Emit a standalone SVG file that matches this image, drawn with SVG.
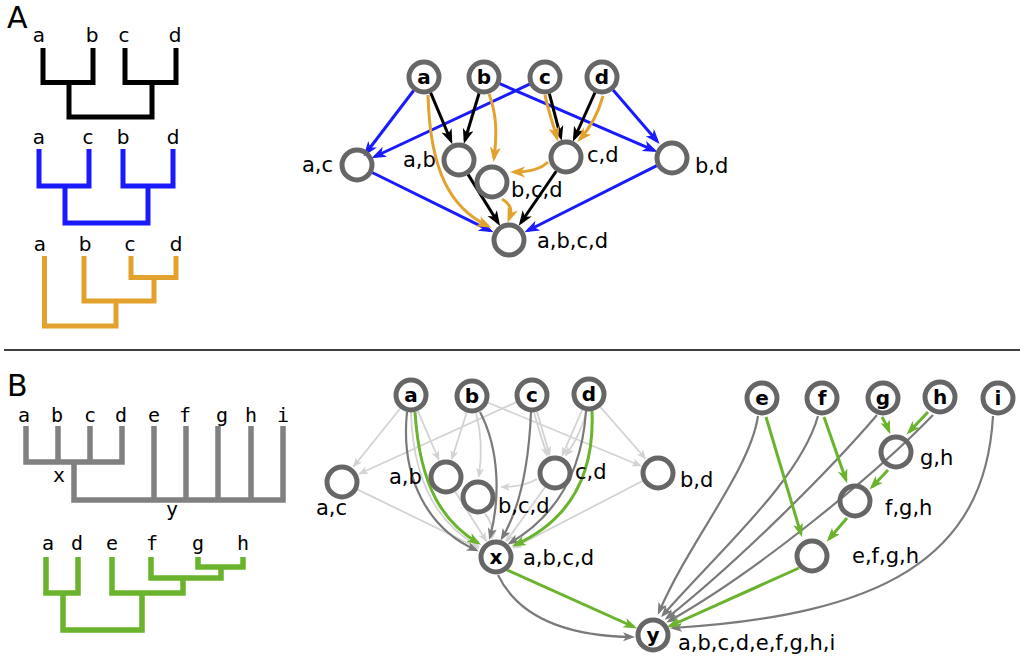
<svg xmlns="http://www.w3.org/2000/svg" width="1024" height="659" viewBox="0 0 1024 659">
<defs>
<style>
.tree{fill:none;stroke-linejoin:miter;stroke-linecap:butt}
.lbl{font-family:"DejaVu Sans","Liberation Sans",sans-serif;font-size:21px;fill:#000}
.tl{font-family:"DejaVu Sans","Liberation Sans",sans-serif;font-size:20px;fill:#000;text-anchor:middle}
.tm{font-family:"DejaVu Sans Mono","Liberation Mono",monospace;font-size:20px;fill:#000;text-anchor:middle}
.leaf{font-family:"DejaVu Sans","Liberation Sans",sans-serif;font-size:20px;font-weight:bold;fill:#000;text-anchor:middle}
.big{font-family:"DejaVu Sans","Liberation Sans",sans-serif;font-size:30px;fill:#000}
.node{fill:none;stroke:#666;stroke-width:5}
.e{fill:none}
.blue{stroke:#1a1aff;stroke-width:3;marker-end:url(#mBlue)}
.blk{stroke:#000;stroke-width:3;marker-end:url(#mBlk)}
.org{stroke:#e3a22d;stroke-width:3;marker-end:url(#mOrg)}
.lg{stroke:#d3d3d3;stroke-width:1.8;marker-end:url(#mLg)}
.dg{stroke:#7a7a7a;stroke-width:2.2;marker-end:url(#mDg)}
.gr{stroke:#6ab42d;stroke-width:3;marker-end:url(#mGr)}
</style>
<marker id="mBlue" markerUnits="userSpaceOnUse" markerWidth="16" markerHeight="12" refX="11" refY="5.5" orient="auto"><path d="M0,0 L15,5.5 L0,11 L4,5.5 Z" fill="#1a1aff"/></marker>
<marker id="mBlk" markerUnits="userSpaceOnUse" markerWidth="16" markerHeight="12" refX="11" refY="5.5" orient="auto"><path d="M0,0 L15,5.5 L0,11 L4,5.5 Z" fill="#000"/></marker>
<marker id="mOrg" markerUnits="userSpaceOnUse" markerWidth="16" markerHeight="12" refX="11" refY="5.5" orient="auto"><path d="M0,0 L15,5.5 L0,11 L4,5.5 Z" fill="#e3a22d"/></marker>
<marker id="mGr" markerUnits="userSpaceOnUse" markerWidth="15" markerHeight="11" refX="10.5" refY="5" orient="auto"><path d="M0,0 L14,5 L0,10 L3.5,5 Z" fill="#6ab42d"/></marker>
<marker id="mLg" markerUnits="userSpaceOnUse" markerWidth="11" markerHeight="9" refX="8" refY="4" orient="auto"><path d="M0,0 L10,4 L0,8 L2.5,4 Z" fill="#d3d3d3"/></marker>
<marker id="mDg" markerUnits="userSpaceOnUse" markerWidth="13" markerHeight="10" refX="9" refY="4.5" orient="auto"><path d="M0,0 L12,4.5 L0,9 L3,4.5 Z" fill="#7a7a7a"/></marker>
</defs>
<rect x="0" y="0" width="1024" height="659" fill="#fff"/>

<g id="panel-labels">
<text class="big" x="7" y="28">A</text>
<text class="big" x="7" y="396">B</text>
<line x1="4" y1="350" x2="1020" y2="350" stroke="#000" stroke-width="1.5"/>
</g>

<g id="tree-A-black">
<path class="tree" stroke="#000" stroke-width="5" d="M43,48 V82.5 H93 V48 M125,48 V82.5 H176 V48 M69,82.5 V117 H152 V82.5"/>
<text class="tl" x="39" y="42">a</text><text class="tl" x="92" y="42">b</text><text class="tl" x="124" y="42">c</text><text class="tl" x="175" y="42">d</text>
</g>
<g id="tree-A-blue">
<path class="tree" stroke="#1a1aff" stroke-width="5" d="M39,149 V186 H89 V149 M123,149 V186 H173 V149 M65,186 V223 H148 V186"/>
<text class="tl" x="39" y="144">a</text><text class="tl" x="88" y="144">c</text><text class="tl" x="123" y="144">b</text><text class="tl" x="173" y="144">d</text>
</g>
<g id="tree-A-orange">
<path class="tree" stroke="#e3a22d" stroke-width="5" d="M131,256 V277.5 H176 V256 M84,256 V301 H154 V277.5 M44.5,256 V326 H116 V301"/>
<text class="tl" x="40" y="251">a</text><text class="tl" x="85" y="251">b</text><text class="tl" x="130" y="251">c</text><text class="tl" x="176" y="251">d</text>
</g>
<g id="tree-B-gray">
<path class="tree" stroke="#808080" stroke-width="5.5" d="M26,426 V462 H122 V426 M58,426 V462 M90,426 V462 M74,462 V500 H283 V426 M154,426 V500 M186,426 V500 M218,426 V500 M251,426 V500"/>
<text class="tm" x="24" y="422">a</text><text class="tm" x="57" y="422">b</text><text class="tm" x="90" y="422">c</text><text class="tm" x="121" y="422">d</text><text class="tm" x="154" y="422">e</text><text class="tm" x="185" y="422">f</text><text class="tm" x="222" y="422">g</text><text class="tm" x="251" y="422">h</text><text class="tm" x="283" y="422">i</text>
<text class="tm" x="59" y="482">x</text><text class="tm" x="172" y="516">y</text>
</g>
<g id="tree-B-green">
<path class="tree" stroke="#6ab42d" stroke-width="5.5" d="M46,557 V593 H78 V557 M198,557 V567 H243 V557 M151,557 V578 H221 V567 M112,557 V593 H183 V578 M63,593 V630 H142 V593"/>
<text class="tm" x="48" y="550">a</text><text class="tm" x="77" y="550">d</text><text class="tm" x="112" y="550">e</text><text class="tm" x="152" y="550">f</text><text class="tm" x="198" y="550">g</text><text class="tm" x="243" y="550">h</text>
</g>

<g id="connectors">
<!-- Panel A -->
<path class="e blue" d="M413.7,90.5 L366,153"/>
<path class="e blue" d="M529.6,84.2 L375,156.5"/>
<path class="e blue" d="M499.6,83.7 L654,150.3"/>
<path class="e blue" d="M613.1,89.9 L657,141"/>
<path class="e blue" d="M372.2,172.5 L490,230.6"/>
<path class="e blue" d="M656.8,165.6 L528,230.5"/>
<path class="e blk" d="M430.6,92.7 L450.8,140.5"/>
<path class="e blk" d="M479.1,93.3 L465,140"/>
<path class="e blk" d="M549.3,93.4 L560.7,137"/>
<path class="e blk" d="M595,92.5 L574.5,138"/>
<path class="e blk" d="M468,174.4 L498,222.5"/>
<path class="e blk" d="M556.4,171 L521,222.5"/>
<path class="e org" d="M428,95 C430,170 450,208 488,226"/>
<path class="e org" d="M489,94 C497,115 497,135 494,158"/>
<path class="e org" d="M545,95 C548,110 553,124 557,138"/>
<path class="e org" d="M603,96 C598,114 590,128 580,139"/>
<path class="e org" d="M548,162 C540,170 527,172 514,172"/>
<path class="e org" d="M502,199 C512,205 512,211 509,219"/>
<!-- Panel B light gray -->
<path class="e lg" d="M400.4,408.3 L354,466"/>
<path class="e lg" d="M516.5,402.1 L360,473.5"/>
<path class="e lg" d="M487.7,402.5 L640,465.5"/>
<path class="e lg" d="M600.2,406.8 L645,458"/>
<path class="e lg" d="M357.3,489.4 L478,548"/>
<path class="e lg" d="M642.9,480.8 L514,547.5"/>
<path class="e lg" d="M417.7,410.6 L438.5,459"/>
<path class="e lg" d="M466.8,412.2 L452,458.5"/>
<path class="e lg" d="M536.8,411.3 L549.5,454.5"/>
<path class="e lg" d="M582.3,409.6 L562.5,455"/>
<path class="e lg" d="M455,491.4 L486,540.5"/>
<path class="e lg" d="M545.2,486.9 L506.5,541"/>
<path class="e lg" d="M411,412 C413,485 440,525 478,546"/>
<path class="e lg" d="M476,413 C482,435 482,455 479,476"/>
<path class="e lg" d="M534,412 C538,428 543,442 547,455"/>
<path class="e lg" d="M587,411 C582,428 575,443 566,455"/>
<path class="e lg" d="M537,479 C527,485 516,487 502,487"/>
<path class="e lg" d="M485,514 C491,520 493,528 492,538"/>
<!-- Panel B dark gray -->
<path class="e dg" d="M407,412 C400,480 430,530 476,550"/>
<path class="e dg" d="M480,412 C500,450 500,500 490,537"/>
<path class="e dg" d="M531,412 C529,460 522,505 502,538"/>
<path class="e dg" d="M586,411 C582,470 558,515 510,543"/>
<path class="e dg" d="M498,575 C520,620 570,636 632,637"/>
<path class="e dg" d="M758,416 C750,470 690,540 659,612"/>
<path class="e dg" d="M818,416 C800,480 720,550 663,615"/>
<path class="e dg" d="M877,415 C830,470 740,560 667,618"/>
<path class="e dg" d="M933,415 C880,470 760,570 669,621"/>
<path class="e dg" d="M993,416 C985,560 880,615 673,628"/>
<!-- Panel B green -->
<path class="e gr" d="M415,412 C420,490 445,523 478,543"/>
<path class="e gr" d="M592,411 C595,480 566,522 515,545"/>
<path class="e gr" d="M507,570 L634,627"/>
<path class="e gr" d="M766,417 L801,534"/>
<path class="e gr" d="M824,417 L846,480"/>
<path class="e gr" d="M882,417 C885,422 887,426 889,431"/>
<path class="e gr" d="M928,412 L909,432"/>
<path class="e gr" d="M888,470 L872,487"/>
<path class="e gr" d="M847,518 L829,539"/>
<path class="e gr" d="M799,568 L670,626"/>
</g>

<!-- Panel A nodes -->
<g id="A-a"><circle class="node" cx="424" cy="77" r="15"/><text class="leaf" x="424" y="84">a</text></g>
<g id="A-b"><circle class="node" cx="484" cy="77" r="15"/><text class="leaf" x="484" y="84">b</text></g>
<g id="A-c"><circle class="node" cx="545" cy="77" r="15"/><text class="leaf" x="545" y="84">c</text></g>
<g id="A-d"><circle class="node" cx="602" cy="77" r="15"/><text class="leaf" x="602" y="84">d</text></g>
<g id="A-ac"><circle class="node" cx="357" cy="165" r="15"/><text class="lbl" x="333" y="172" text-anchor="end">a,c</text></g>
<g id="A-ab"><circle class="node" cx="459" cy="160" r="15"/><text class="lbl" x="403" y="167">a,b</text></g>
<g id="A-bcd"><circle class="node" cx="492" cy="182" r="15"/><text class="lbl" x="511" y="197">b,c,d</text></g>
<g id="A-cd"><circle class="node" cx="566" cy="157" r="15"/><text class="lbl" x="587" y="162">c,d</text></g>
<g id="A-bd"><circle class="node" cx="672" cy="158" r="15"/><text class="lbl" x="695" y="173">b,d</text></g>
<g id="A-abcd"><circle class="node" cx="509" cy="240" r="15"/><text class="lbl" x="537" y="248">a,b,c,d</text></g>

<!-- Panel B nodes -->
<g id="B-a"><circle class="node" cx="411" cy="395" r="15"/><text class="leaf" x="411" y="402">a</text></g>
<g id="B-b"><circle class="node" cx="472" cy="396" r="15"/><text class="leaf" x="472" y="403">b</text></g>
<g id="B-c"><circle class="node" cx="532" cy="395" r="15"/><text class="leaf" x="532" y="402">c</text></g>
<g id="B-d"><circle class="node" cx="589" cy="394" r="15"/><text class="leaf" x="589" y="401">d</text></g>
<g id="B-ac"><circle class="node" cx="342" cy="482" r="15"/><text class="lbl" x="316" y="515">a,c</text></g>
<g id="B-ab"><circle class="node" cx="446" cy="477" r="15"/><text class="lbl" x="389" y="484">a,b</text></g>
<g id="B-bcd"><circle class="node" cx="478" cy="497" r="15"/><text class="lbl" x="498" y="513">b,c,d</text></g>
<g id="B-cd"><circle class="node" cx="555" cy="473" r="15"/><text class="lbl" x="575" y="479">c,d</text></g>
<g id="B-bd"><circle class="node" cx="658" cy="473" r="15"/><text class="lbl" x="680" y="487">b,d</text></g>
<g id="B-x"><circle class="node" cx="496" cy="557" r="15"/><text class="leaf" x="496" y="564">x</text><text class="lbl" x="523" y="565">a,b,c,d</text></g>
<g id="B-e"><circle class="node" cx="762" cy="398" r="15"/><text class="leaf" x="762" y="405">e</text></g>
<g id="B-f"><circle class="node" cx="822" cy="398" r="15"/><text class="leaf" x="822" y="405">f</text></g>
<g id="B-g"><circle class="node" cx="883" cy="398" r="15"/><text class="leaf" x="883" y="405">g</text></g>
<g id="B-h"><circle class="node" cx="940" cy="397" r="15"/><text class="leaf" x="940" y="404">h</text></g>
<g id="B-i"><circle class="node" cx="998" cy="398" r="15"/><text class="leaf" x="998" y="405">i</text></g>
<g id="B-gh"><circle class="node" cx="896" cy="452" r="15"/><text class="lbl" x="920" y="465">g,h</text></g>
<g id="B-fgh"><circle class="node" cx="855" cy="501" r="15"/><text class="lbl" x="885" y="515">f,g,h</text></g>
<g id="B-efgh"><circle class="node" cx="812" cy="556" r="15"/><text class="lbl" x="852" y="563">e,f,g,h</text></g>
<g id="B-y"><circle class="node" cx="653" cy="635" r="15"/><text class="leaf" x="653" y="642">y</text><text class="lbl" x="678" y="650">a,b,c,d,e,f,g,h,i</text></g>
</svg>
